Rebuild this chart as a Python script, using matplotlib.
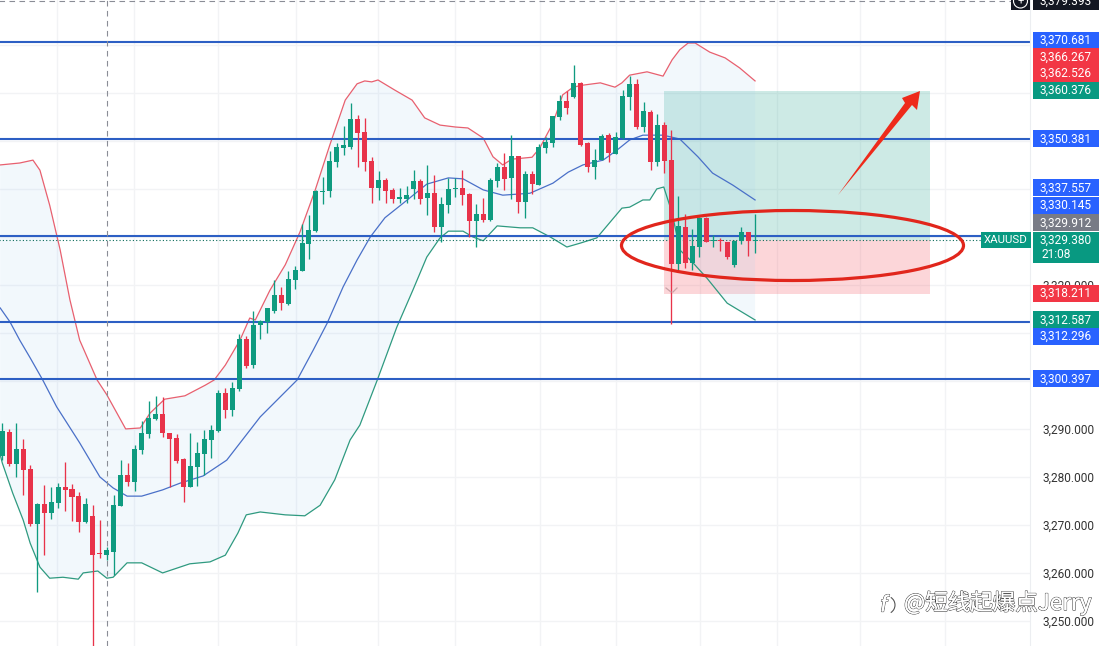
import matplotlib
matplotlib.use('Agg')
import matplotlib.pyplot as plt
import matplotlib.patheffects as pe
from matplotlib.patches import Ellipse, Polygon, Rectangle, Arc, Circle
import numpy as np

# velas XAUUSD
opens = [3284.4,3289.4,3282.7,3285.8,3281.6,3270.2,3274.4,3272.5,3274.6,3277.9,3277.5,3276.0,3270.6,3271.9,3264.2,3263.8,3264.4,3273.9,3280.4,3278.9,
         3285.6,3288.9,3292.1,3293.1,3289.1,3288.1,3283.7,3278.0,3282.1,3284.8,3287.7,3289.6,3297.5,3293.9,3298.3,3308.7,3303.3,3311.6,3312.3,3314.6,
         3317.8,3316.0,3321.0,3323.0,3328.6,3331.2,3339.4,3339.6,3345.7,3348.6,3348.7,3354.6,3351.9,3345.8,3340.2,3341.9,3339.8,3338.0,3337.9,3340.0,
         3341.6,3338.1,3339.2,3332.1,3336.7,3339.9,3340.1,3338.9,3333.3,3334.8,3333.5,3341.6,3344.6,3342.3,3346.9,3337.3,3343.1,3340.8,3348.5,3349.6,
         3354.9,3358.3,3359.2,3362.1,3349.6,3344.6,3346.0,3351.2,3347.3,3350.6,3359.2,3361.9,3352.8,3356.1,3345.7,3353.3,3346.0,3324.4,3332.0,3324.6,
         3328.0,3333.9,3329.2,3329.2,3328.9,3324.2,3329.2,3331.0,3329.2]
highs = [3291.3,3289.9,3291.3,3288.0,3282.5,3274.6,3278.3,3277.8,3278.7,3283.2,3278.5,3276.9,3275.7,3274.1,3271.0,3265.5,3276.2,3283.5,3282.8,3286.6,
         3291.6,3295.8,3296.9,3296.6,3289.1,3288.9,3283.9,3289.1,3287.2,3289.8,3290.8,3298.1,3298.5,3299.7,3309.8,3309.4,3314.6,3312.7,3315.2,3321.0,
         3319.5,3322.8,3323.9,3332.6,3334.6,3339.8,3342.4,3348.0,3349.6,3353.1,3358.0,3355.5,3354.7,3346.7,3343.8,3342.2,3340.2,3340.1,3340.6,3343.9,
         3342.1,3345.0,3342.9,3338.4,3342.2,3342.2,3343.9,3339.2,3336.9,3338.1,3342.2,3345.3,3347.4,3351.2,3346.9,3343.7,3343.7,3349.4,3350.9,3355.2,
         3359.6,3360.3,3365.8,3362.3,3349.8,3348.3,3351.4,3351.7,3351.9,3360.6,3363.5,3363.0,3358.2,3356.4,3355.6,3354.0,3352.3,3338.5,3334.8,3331.6,
         3334.2,3334.2,3330.4,3329.7,3329.0,3329.4,3332.1,3331.1,3334.7]
lows = [3283.5,3282.3,3280.0,3276.2,3269.8,3256.1,3263.7,3271.2,3273.5,3273.0,3270.8,3268.6,3270.5,3244.0,3263.2,3262.7,3259.6,3273.9,3278.1,3277.1,
        3284.8,3288.1,3291.9,3288.4,3277.8,3282.8,3274.8,3277.9,3278.2,3280.4,3283.9,3289.4,3292.3,3292.7,3297.9,3302.6,3302.6,3308.8,3310.0,3314.1,
        3314.8,3315.8,3319.2,3323.0,3325.3,3331.0,3336.9,3338.4,3344.6,3347.1,3348.3,3344.6,3343.8,3337.1,3337.7,3337.1,3337.1,3337.1,3337.0,3338.0,
        3336.9,3334.6,3331.1,3329.0,3335.0,3338.4,3336.6,3330.0,3327.8,3333.2,3333.4,3340.5,3339.8,3338.0,3334.9,3334.0,3338.9,3340.8,3347.4,3348.8,
        3354.4,3355.6,3358.9,3349.0,3343.5,3342.1,3346.0,3345.7,3347.3,3350.5,3356.4,3352.4,3351.9,3343.9,3344.8,3343.3,3311.9,3323.1,3323.5,3323.1,
        3325.9,3329.0,3328.0,3327.1,3325.5,3323.7,3328.5,3326.0,3326.6]
closes = [3289.6,3282.6,3285.8,3281.4,3270.2,3274.4,3272.5,3274.8,3277.9,3277.3,3275.9,3270.6,3274.4,3263.8,3264.0,3264.7,3274.1,3280.4,3278.9,3285.8,
          3289.1,3292.3,3293.1,3289.1,3287.9,3283.3,3278.0,3282.3,3285.0,3287.9,3289.8,3297.5,3293.9,3298.5,3308.7,3303.1,3311.6,3312.5,3315.1,3317.9,
          3316.2,3321.2,3323.1,3328.7,3331.4,3339.6,3339.6,3345.8,3348.7,3349.2,3354.6,3351.6,3345.7,3340.2,3341.9,3339.6,3338.0,3338.1,3338.7,3341.6,
          3337.9,3339.1,3332.1,3336.9,3339.9,3340.0,3338.7,3333.3,3334.8,3333.5,3341.9,3344.6,3342.1,3346.9,3337.3,3343.1,3341.0,3348.8,3349.8,3355.2,
          3358.4,3356.9,3362.1,3349.2,3344.6,3346.0,3351.0,3347.4,3350.8,3359.4,3361.9,3352.8,3356.2,3345.7,3353.3,3345.8,3324.4,3332.3,3324.6,3328.1,
          3333.9,3329.0,3329.4,3329.1,3325.9,3329.2,3331.0,3329.2,3329.4]

# bandas de bollinger (indice da vela, preco)
upper_x = [-0.3,2.5,4.4,5.4,6.8,8.3,9.7,11.1,13.6,15.0,17.7,19.8,21.2,23.3,26.2,29.1,30.4,32.0,34.1,35.5,36.3,38.4,40.6,42.7,44.9,47.0,49.2,50.9,52.0,53.0,
           53.9,56.3,58.8,60.6,62.8,65.0,66.8,69.0,70.4,71.8,73.1,76.0,77.1,79.0,80.4,81.9,83.2,85.8,87.9,88.9,90.0,92.5,94.8,96.1,97.2,98.4,99.4,101.5,103.7,105.8,108.0]
upper_y = [3345.0,3345.4,3346.0,3343.9,3336.6,3327.3,3316.9,3308.5,3300.2,3297.1,3290.0,3290.2,3293.3,3296.2,3296.9,3299.1,3300.2,3303.3,3308.5,3313.1,3312.7,3318.9,3324.2,3331.0,3339.8,3349.2,3358.5,3361.9,3362.5,3362.3,
           3362.7,3360.6,3358.5,3354.8,3353.3,3352.9,3352.7,3350.6,3346.7,3345.0,3346.2,3346.6,3348.5,3353.7,3359.6,3361.2,3361.6,3362.1,3361.2,3362.1,3363.7,3364.4,3363.5,3366.9,3369.0,3370.4,3370.4,3368.5,3367.3,3365.2,3362.5]
mid_x = [-0.3,1.1,2.5,4.0,5.8,7.8,11.1,14.0,15.9,17.9,20.0,23.0,25.5,28.8,32.2,37.0,42.3,44.6,46.6,48.9,50.9,52.8,54.9,58.1,60.9,64.0,66.1,69.0,71.8,75.7,
         79.0,81.2,83.3,86.2,88.2,90.0,91.9,94.8,97.2,99.8,101.9,104.8,108.0]
mid_y = [3315.2,3312.3,3308.5,3304.8,3300.2,3294.6,3287.1,3280.0,3277.7,3276.0,3276.0,3277.3,3278.7,3280.2,3283.5,3292.5,3300.2,3306.4,3312.0,3319.6,3325.2,3330.0,3334.0,3337.7,3341.0,3342.3,3342.1,3339.8,3338.7,3339.1,
         3341.2,3343.5,3345.0,3346.0,3348.1,3350.2,3351.2,3351.2,3350.4,3346.7,3343.3,3340.8,3337.7]
lower_x = [-0.3,0.0,1.5,3.0,4.0,5.4,6.8,8.7,10.9,11.6,13.7,15.0,15.9,17.9,20.0,23.0,26.9,29.8,32.0,33.8,35.0,37.0,40.6,43.4,45.6,47.7,49.9,51.3,53.8,56.6,
           58.9,60.9,62.8,64.0,66.1,67.5,69.0,71.0,74.3,76.1,78.6,81.0,82.9,85.3,88.9,90.0,91.9,92.9,93.9,94.9,96.1,97.2,99.1,101.1,104.0,108.0]
lower_y = [3284.6,3282.9,3276.6,3271.0,3266.2,3261.2,3258.9,3259.1,3258.7,3260.0,3260.4,3258.9,3259.1,3262.1,3262.1,3260.0,3261.9,3262.3,3263.7,3268.3,3272.1,3272.7,3272.1,3271.9,3274.1,3279.4,3287.7,3290.8,3300.2,3311.2,
           3318.9,3325.8,3329.8,3331.2,3331.2,3330.0,3329.2,3332.3,3331.9,3331.9,3330.0,3327.9,3328.7,3329.8,3336.0,3336.2,3337.7,3337.7,3340.0,3340.4,3335.0,3327.3,3324.6,3321.4,3316.2,3312.7]

hline_prices = [3370.681, 3350.381, 3330.145, 3312.296, 3300.397]
price_ticks = [3250, 3260, 3270, 3280, 3290, 3300, 3310, 3320, 3330, 3340, 3350, 3360, 3370]
shown_ticks = [3250, 3260, 3270, 3280, 3290, 3320]
last_price = 3329.380
target_price = 3360.376
stop_price = 3318.211

# etiquetas do eixo: texto, preco onde fica, cor
tag_text = ['3,370.681','3,366.267','3,362.526','3,360.376','3,350.381','3,337.557','3,330.145','3,329.912','3,318.211','3,312.587','3,312.296','3,300.397']
tag_price = [3371.0,3367.5,3364.0,3360.6,3350.4,3340.2,3336.6,3332.9,3318.3,3312.7,3309.2,3300.4]
tag_color = ['#2962ff','#f23645','#f23645','#089981','#2962ff','#2962ff','#2962ff','#787b86','#f23645','#089981','#2962ff','#2962ff']

W, H = 1105, 646
GREEN = '#0f9b80'
RED = '#e8334a'
LINE_BLUE = '#2d5fc4'

plt.rcParams['font.family'] = ['Roboto', 'DejaVu Sans']
fig = plt.figure(figsize=(W/100, H/100), dpi=100)
ax = fig.add_axes([0, 0, 1030/W, 1])
ax.set_xlim(-2.3/6.97, (1030-2.3)/6.97)
ax.set_ylim(3379.36 - H/4.8, 3379.36)


def fx(x):
    return x/W


def fy(y):
    return 1 - y/H


# grade clara
ax.set_axisbelow(True)
ax.set_yticks(price_ticks)
ax.set_yticklabels([f'{p:,.3f}' if p in shown_ticks else '' for p in price_ticks], fontsize=8.6, color='#333333')
ax.yaxis.tick_right()
ax.tick_params(axis='y', length=0, pad=9)
ax.tick_params(axis='x', length=0, labelbottom=False)
ax.grid(axis='y', color='#f2f3f5', lw=1)
for x in [57, 134, 218, 296, 378, 455, 540, 616, 700, 777, 860, 945]:
    ax.axvline((x-2.3)/6.97, color='#f2f3f5', lw=1, zorder=0)
for s in ['top', 'left', 'bottom']:
    ax.spines[s].set_visible(False)
ax.spines['right'].set_color('#eceef1')

# posicao comprada
ax.add_patch(Rectangle((95.0, last_price), 38.1, target_price-last_price, fc='#089981', alpha=0.2, ec='none', zorder=1))
ax.add_patch(Rectangle((95.0, stop_price), 38.1, last_price-stop_price, fc='#f23645', alpha=0.2, ec='none', zorder=1))

# banda por cima da posicao
band = np.column_stack([upper_x + lower_x[::-1], upper_y + lower_y[::-1]])
ax.add_patch(Polygon(band, closed=True, fc='#a8d0f0', alpha=0.15, ec='none', zorder=1.5))

ax.plot(upper_x, upper_y, color='#e8606f', lw=0.9, zorder=2)
ax.plot(mid_x, mid_y, color='#4a70c8', lw=0.9, zorder=2)
ax.plot(lower_x, lower_y, color='#2f9a80', lw=0.9, zorder=2)

# linhas horizontais
for p in hline_prices:
    ax.axhline(p, color=LINE_BLUE, lw=1.5, zorder=2.5)
ax.plot([-1, 141.0], [last_price, last_price], color='#0b6b5a', lw=0.8, ls=(0, (1, 2)), zorder=2.5)
ax.axvline((107-2.3)/6.97, color='#8a8d96', lw=0.8, ls=(0, (5, 4)), zorder=2.5)
ax.plot([-1, (1011-2.3)/6.97], [3379.2, 3379.2], color='#8a8d96', lw=0.8, ls=(0, (5, 4)), zorder=2.5)

# velas
idx = np.arange(len(opens))
o = np.array(opens)
c = np.array(closes)
cols = [GREEN if cc >= oo else RED for oo, cc in zip(o, c)]
ax.vlines(idx, lows, highs, colors=cols, lw=0.95, zorder=3)
ax.bar(idx, np.maximum(np.abs(c-o), 0.25), bottom=np.minimum(o, c), width=0.72, color=cols, lw=0, zorder=3.1)

# marca pequena abaixo da posicao
fig.add_artist(plt.Line2D([fx(666), fx(671)], [fy(288), fy(292)], color='#c9a3a8', lw=0.9, zorder=3))
fig.add_artist(plt.Line2D([fx(673), fx(677)], [fy(292), fy(288)], color='#c9a3a8', lw=0.9, zorder=3))

# elipse e seta desenhadas a mao
ax.add_patch(Ellipse((fx(792.5), fy(245.5)), 342/W, 70/H, transform=fig.transFigure, fc='none', ec='#e1261c', lw=2.3, zorder=5))
arrow = [(838, 195), (905, 103), (902, 98), (920, 91), (917, 110), (912, 105)]
ax.add_patch(Polygon([(fx(a), fy(b)) for a, b in arrow], closed=True, transform=fig.transFigure, fc='#ee2a1a', ec='none', zorder=5))

# etiquetas a direita
for t, p, col in zip(tag_text, tag_price, tag_color):
    yy = 379 + (3300.397-p)*4.8
    fig.patches.append(Rectangle((fx(1033), fy(yy+8.5)), 66/W, 17/H, transform=fig.transFigure, fc=col, ec='none', zorder=6))
    fig.text(fx(1066), fy(yy), t, color='white', fontsize=8.6, ha='center', va='center', zorder=7)
fig.patches.append(Rectangle((fx(1033), fy(263)), 66/W, 31/H, transform=fig.transFigure, fc='#089981', ec='none', zorder=6))
fig.text(fx(1066), fy(240), '3,329.380', color='white', fontsize=8.6, ha='center', va='center', zorder=7)
fig.text(fx(1041), fy(254), '21:08', color='white', fontsize=8.6, ha='left', va='center', zorder=7)
fig.patches.append(Rectangle((fx(981), fy(248)), 50/W, 16/H, transform=fig.transFigure, fc='#089981', ec='none', zorder=6))
fig.text(fx(1006), fy(240), 'XAUUSD', color='white', fontsize=8.2, ha='center', va='center', zorder=7)

# topo
fig.patches.append(Rectangle((fx(1033), fy(10)), 66/W, 10/H, transform=fig.transFigure, fc='#131722', ec='none', zorder=6))
fig.text(fx(1066), fy(1), '3,379.393', color='white', fontsize=8.6, ha='center', va='center', zorder=7)
fig.patches.append(Rectangle((fx(1011), fy(10)), 19/W, 10/H, transform=fig.transFigure, fc='#131722', ec='none', zorder=6))
fig.patches.append(Ellipse((fx(1020.5), fy(1)), 14/W, 14/H, transform=fig.transFigure, fc='none', ec='white', lw=0.8, zorder=7))
fig.text(fx(1020.5), fy(2), '+', color='white', fontsize=8, ha='center', va='center', zorder=7)

# marca d'agua
halo = [pe.withStroke(linewidth=0.9, foreground='#444444'), pe.Normal()]
fig.text(fx(904), fy(603), '@短线起爆点Jerry', family=['Noto Sans CJK SC', 'DejaVu Sans'], fontsize=16.2, color='white',
         ha='left', va='center', path_effects=halo, zorder=8)
fig.text(fx(884), fy(606), 'f', fontsize=16, style='italic', color='white', ha='center', va='center', path_effects=halo, zorder=8)
fig.patches.append(Arc((fx(886), fy(605)), 18/W, 18/H, theta1=-70, theta2=70, transform=fig.transFigure, ec='#555555', lw=0.8, zorder=8))

fig.savefig('out.png', dpi=100)
